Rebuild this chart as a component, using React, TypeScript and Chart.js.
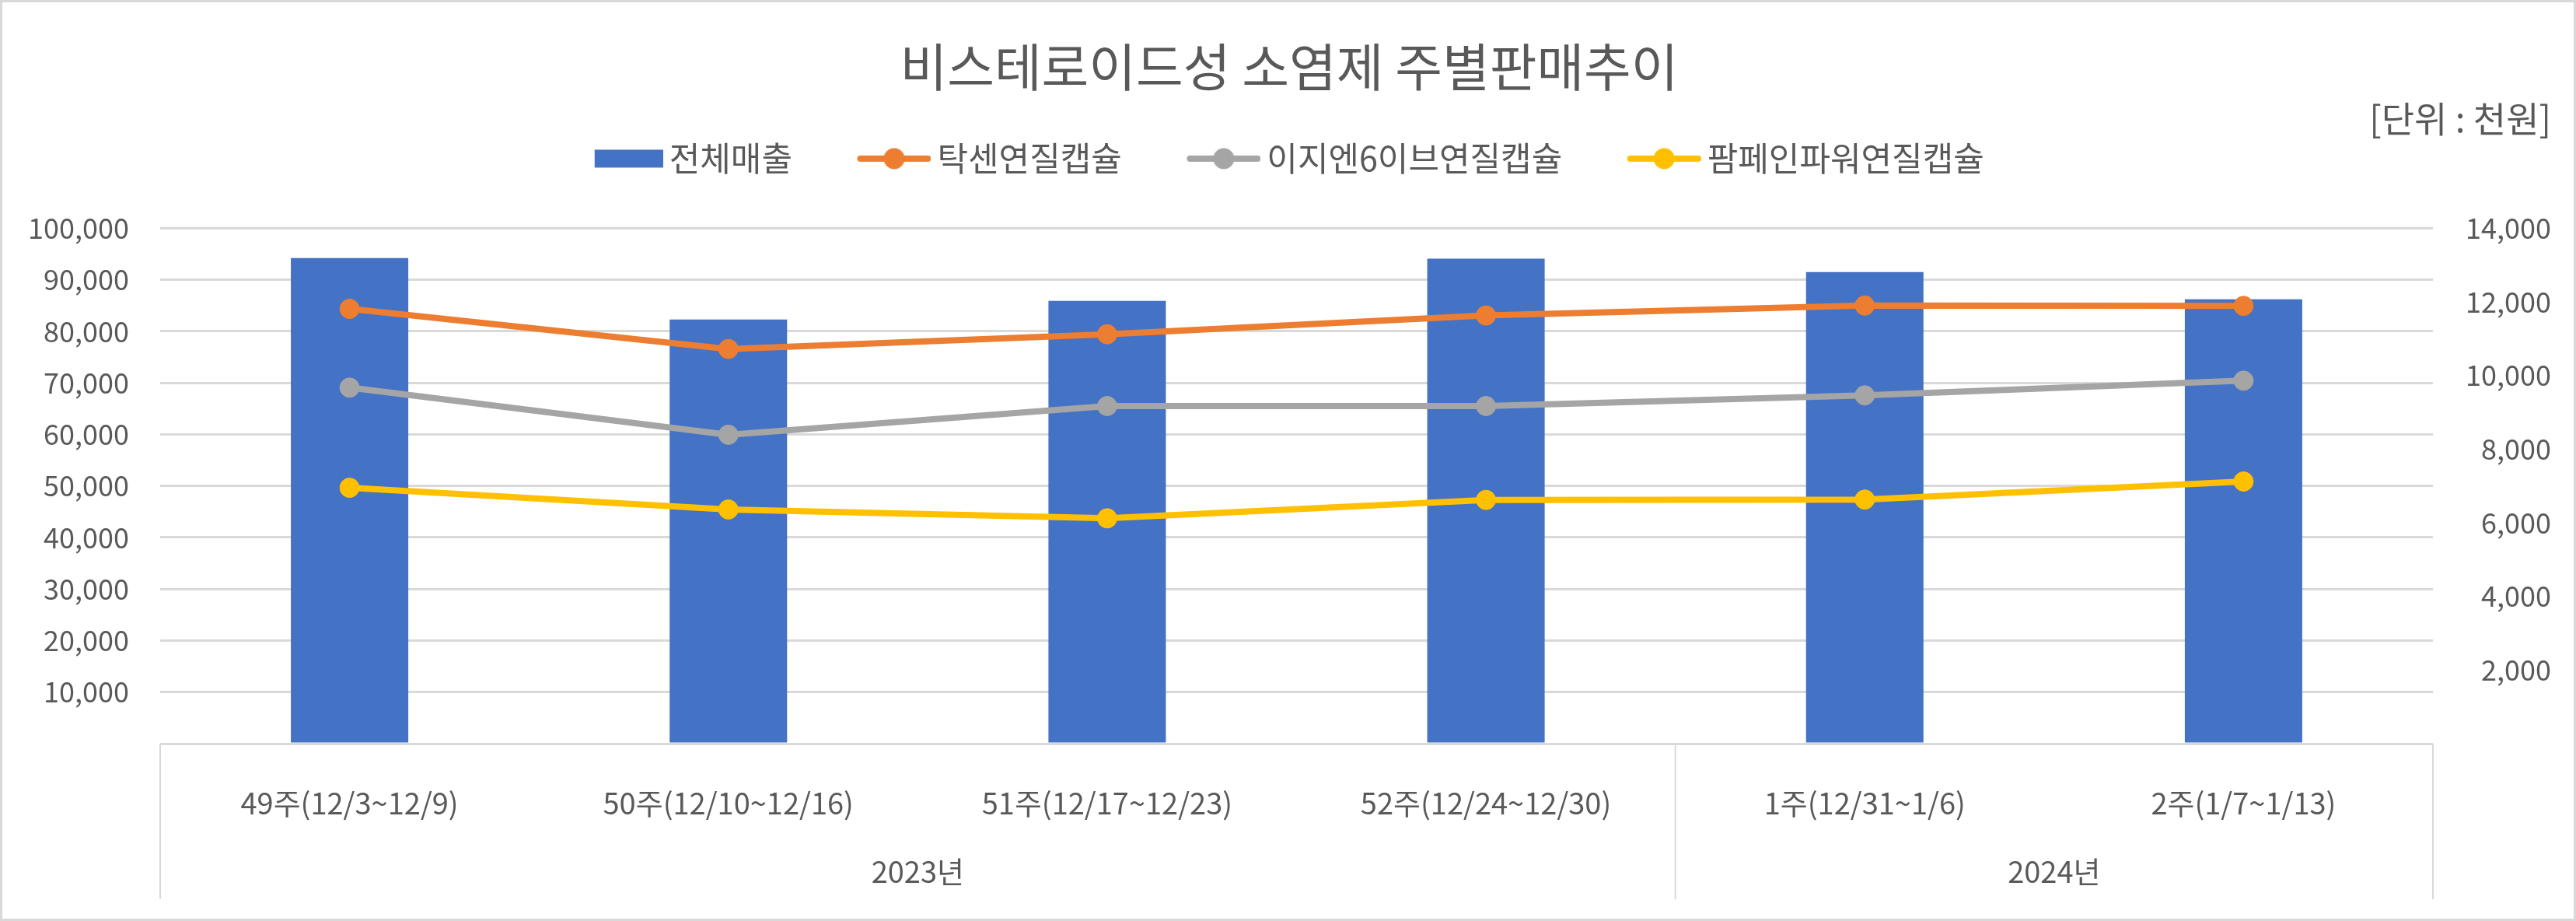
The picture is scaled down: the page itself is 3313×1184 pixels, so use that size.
import React, { useEffect, useRef } from 'react';
import { Chart, registerables } from 'chart.js';

Chart.register(...registerables);

// ---- data ----
const categories = [
  '49주(12/3~12/9)',
  '50주(12/10~12/16)',
  '51주(12/17~12/23)',
  '52주(12/24~12/30)',
  '1주(12/31~1/6)',
  '2주(1/7~1/13)',
];
const yearLabels = ['2023년', '2024년'];
const yearSpans = [4, 2];

const seriesNames = ['전체매출', '탁센연질캡슐', '이지엔6이브연질캡슐', '팜페인파워연질캡슐'];
const totalSales = [94200, 82300, 85900, 94100, 91500, 86200];
const taxenSales = [11810, 10720, 11120, 11630, 11900, 11890];
const eznSales = [9670, 8390, 9170, 9170, 9460, 9860];
const pampainSales = [6950, 6360, 6120, 6620, 6630, 7120];

const leftAxisMax = 100000;
const leftAxisStep = 10000;
const rightAxisMax = 14000;
const rightAxisStep = 2000;

const titleText = '비스테로이드성 소염제 주별판매추이';
const unitText = '[단위 : 천원]';

// ---- styles ----
const COLORS = ['#4472C4', '#ED7D31', '#A5A5A5', '#FFC000'];
const TEXT = '#595959';
const GRID = '#D9D9D9';
const FONT = "'Noto Sans CJK KR', 'Noto Sans', sans-serif";
const LEGEND_FONT = 43;
const LEGEND_BOX = 163;
const ICON_GAP = 8;

function makeIcon(kind: 'rect' | 'line', color: string, iconW: number): HTMLCanvasElement {
  const c = document.createElement('canvas');
  const w = Math.round(LEGEND_BOX + 2 * (LEGEND_FONT / 2 - ICON_GAP));
  const h = 30;
  c.width = w;
  c.height = h;
  const ctx = c.getContext('2d')!;
  const x0 = w - iconW;
  if (kind === 'rect') {
    ctx.fillStyle = color;
    ctx.fillRect(x0, 3.5, iconW, 23);
  } else {
    ctx.strokeStyle = color;
    ctx.lineWidth = 8;
    ctx.lineCap = 'round';
    ctx.beginPath();
    ctx.moveTo(x0 + 4, h / 2);
    ctx.lineTo(w - 4, h / 2);
    ctx.stroke();
    ctx.fillStyle = color;
    ctx.beginPath();
    ctx.arc(x0 + iconW / 2, h / 2, 13.5, 0, Math.PI * 2);
    ctx.fill();
  }
  return c;
}

const fmt = (v: number | string) => {
  const n = Number(v);
  return n === 0 ? '' : n.toLocaleString('en-US');
};

const groupPlugin = {
  id: 'yearGroups',
  afterLayout(chart: any) {
    if (chart.legend) {
      chart.legend.left -= 28;
      chart.legend.right -= 28;
    }
    if (chart.titleBlock) {
      chart.titleBlock.left += 16;
      chart.titleBlock.right += 16;
    }
  },
  afterDraw(chart: any) {
    const { ctx, chartArea, scales } = chart;
    const xs = scales.x;
    const half = (xs.getPixelForValue(1) - xs.getPixelForValue(0)) / 2;
    const top = chartArea.bottom;
    const bottom = chartArea.bottom + 200;
    ctx.save();
    ctx.strokeStyle = GRID;
    ctx.lineWidth = 2;
    ctx.fillStyle = TEXT;
    ctx.font = `38px ${FONT}`;
    ctx.textAlign = 'center';
    ctx.textBaseline = 'middle';
    let start = 0;
    yearSpans.forEach((span, i) => {
      const left = xs.getPixelForValue(start) - half;
      const right = xs.getPixelForValue(start + span - 1) + half;
      ctx.beginPath();
      ctx.moveTo(left, top);
      ctx.lineTo(left, bottom);
      ctx.stroke();
      if (i === yearSpans.length - 1) {
        ctx.beginPath();
        ctx.moveTo(right, top);
        ctx.lineTo(right, bottom);
        ctx.stroke();
      }
      ctx.fillText(yearLabels[i], (left + right) / 2, chartArea.bottom + 165);
      start += span;
    });
    ctx.restore();
  },
};

export default function App() {
  const ref = useRef<HTMLCanvasElement | null>(null);

  useEffect(() => {
    if (!ref.current) return;
    Chart.defaults.font.family = FONT;
    Chart.defaults.color = TEXT;
    const icons = [
      makeIcon('rect', COLORS[0], 88),
      makeIcon('line', COLORS[1], 95),
      makeIcon('line', COLORS[2], 95),
      makeIcon('line', COLORS[3], 95),
    ];
    const lineBase = {
      type: 'line' as const,
      yAxisID: 'y1',
      borderWidth: 8,
      pointRadius: 12.5,
      pointBorderWidth: 1,
      tension: 0,
      order: 1,
    };
    const chart = new Chart(ref.current, {
      type: 'bar',
      data: {
        labels: categories,
        datasets: [
          {
            type: 'bar',
            label: seriesNames[0],
            data: totalSales,
            backgroundColor: COLORS[0],
            yAxisID: 'y',
            barPercentage: 0.31,
            categoryPercentage: 1,
            order: 10,
          },
          { ...lineBase, label: seriesNames[1], data: taxenSales, borderColor: COLORS[1], backgroundColor: COLORS[1], pointBorderColor: COLORS[1] },
          { ...lineBase, label: seriesNames[2], data: eznSales, borderColor: COLORS[2], backgroundColor: COLORS[2], pointBorderColor: COLORS[2] },
          { ...lineBase, label: seriesNames[3], data: pampainSales, borderColor: COLORS[3], backgroundColor: COLORS[3], pointBorderColor: COLORS[3] },
        ] as any,
      },
      options: {
        responsive: false,
        animation: false,
        devicePixelRatio: 1,
        events: [],
        layout: { padding: { left: 0, right: 29, top: 0, bottom: 0 } },
        plugins: {
          tooltip: { enabled: false },
          title: {
            display: true,
            text: titleText,
            color: TEXT,
            font: { size: 66, weight: 'normal', family: FONT },
            padding: { top: 43, bottom: 0 },
          },
          subtitle: {
            display: true,
            text: unitText,
            align: 'end',
            color: TEXT,
            font: { size: 46, weight: 'normal', family: FONT },
            padding: { top: 0, bottom: 0 },
          },
          legend: {
            display: true,
            position: 'top',
            labels: {
              usePointStyle: true,
              pointStyleWidth: LEGEND_BOX,
              padding: 2,
              color: TEXT,
              font: { size: LEGEND_FONT, family: FONT },
              sort: (a: any, b: any) => a.datasetIndex - b.datasetIndex,
              generateLabels: (ch: any) =>
                ch.data.datasets.map((ds: any, i: number) => ({
                  text: ds.label,
                  fillStyle: COLORS[i],
                  strokeStyle: COLORS[i],
                  lineWidth: 0,
                  hidden: false,
                  pointStyle: icons[i],
                  datasetIndex: i,
                  fontColor: TEXT,
                })),
            },
          },
        },
        scales: {
          x: {
            type: 'category',
            position: 'bottom',
            grid: { display: false },
            border: { display: false },
            ticks: {
              color: TEXT,
              font: { size: 38, family: FONT },
              padding: 46,
              maxRotation: 0,
              autoSkip: false,
            },
            afterFit: (s: any) => {
              s.height = 225;
            },
          },
          xTopSpacer: {
            type: 'category',
            position: 'top',
            labels: [''],
            grid: { display: false },
            border: { display: false },
            ticks: { display: false },
            afterFit: (s: any) => {
              s.height = 58;
            },
          },
          y: {
            type: 'linear',
            position: 'left',
            min: 0,
            max: leftAxisMax,
            grid: { color: GRID, lineWidth: 3, drawTicks: false },
            border: { display: false },
            ticks: {
              stepSize: leftAxisStep,
              color: TEXT,
              font: { size: 36, family: FONT },
              padding: 40,
              callback: fmt,
            },
            afterFit: (s: any) => {
              s.width = 203;
            },
          },
          y1: {
            type: 'linear',
            position: 'right',
            min: 0,
            max: rightAxisMax,
            grid: { display: false, drawTicks: false },
            border: { display: false },
            ticks: {
              stepSize: rightAxisStep,
              color: TEXT,
              font: { size: 36, family: FONT },
              crossAlign: 'far',
              callback: fmt,
            },
            afterFit: (s: any) => {
              s.width = 152;
            },
          },
        },
      } as any,
      plugins: [groupPlugin],
    });
    return () => chart.destroy();
  }, []);

  return (
    <div
      style={{
        position: 'absolute',
        left: 0,
        top: 0,
        width: 3313,
        height: 1184,
        boxSizing: 'border-box',
        border: '3px solid #D9D9D9',
        background: '#FFFFFF',
      }}
    >
      <canvas ref={ref} width={3307} height={1178} style={{ display: 'block', width: 3307, height: 1178 }} />
    </div>
  );
}
